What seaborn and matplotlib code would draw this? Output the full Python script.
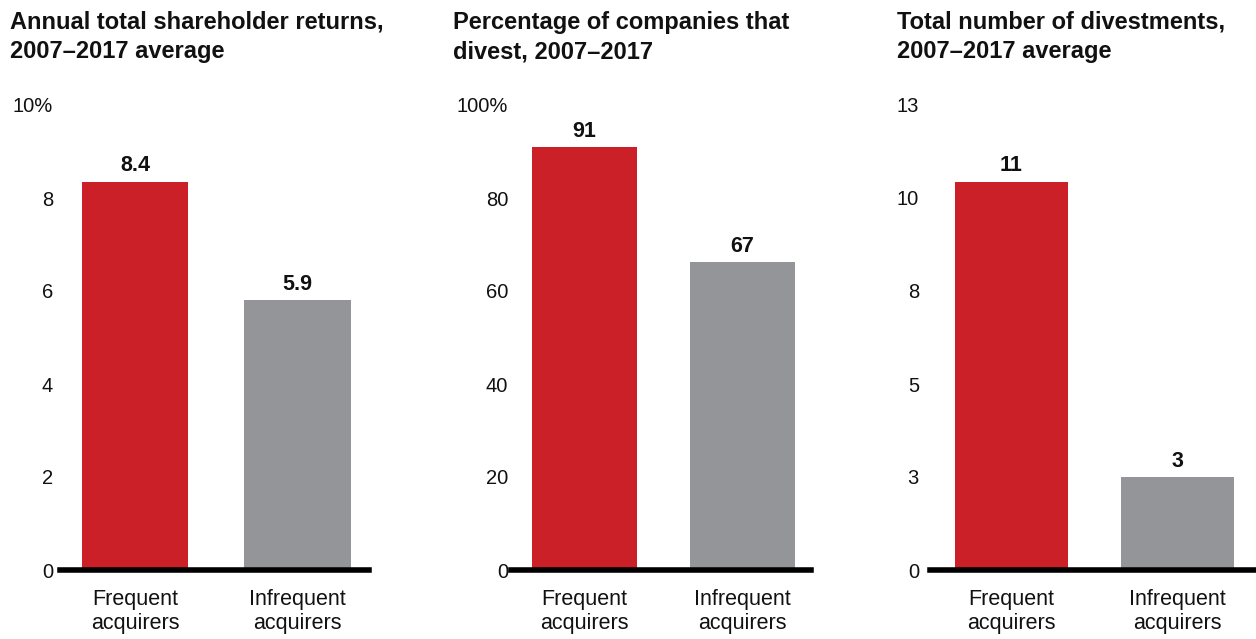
import matplotlib
matplotlib.use('Agg')

import pandas as pd
import seaborn as sns
import matplotlib.pyplot as plt

sns.set_style('white')
plt.rcParams['font.family'] = ['Liberation Sans', 'DejaVu Sans']

categories = ['Frequent\nacquirers', 'Infrequent\nacquirers']
bar_colors = ['#cc2028', '#939598']

# panel 1: annual TSR
tsr_values = [8.35, 5.8]
tsr_labels = ['8.4', '5.9']
tsr_ticks = [0, 2, 4, 6, 8, 10]
tsr_ticklabels = ['0', '2', '4', '6', '8', '10%']

# panel 2: share of companies that divest
divest_values = [90.9, 66.2]
divest_labels = ['91', '67']
divest_ticks = [0, 20, 40, 60, 80, 100]
divest_ticklabels = ['0', '20', '40', '60', '80', '100%']

# panel 3: number of divestments
count_values = [10.85, 2.6]
count_labels = ['11', '3']
count_ticks = [0, 2.6, 5.2, 7.8, 10.4, 13]
count_ticklabels = ['0', '3', '5', '8', '10', '13']

titles = ['Annual total shareholder returns,\n2007\u20132017 average',
          'Percentage of companies that\ndivest, 2007\u20132017',
          'Total number of divestments,\n2007\u20132017 average']

W, H = 1256, 639
fig = plt.figure(figsize=(W / 100, H / 100), dpi=100)

# (left px, right px, xlim, bar width, tick pad, title x px)
panels = [
    (60, 369, (-0.463, 1.444), 0.66, 5, 10, tsr_values, tsr_labels, tsr_ticks, tsr_ticklabels),
    (511, 811, (-0.465, 1.434), 0.66, 2, 453, divest_values, divest_labels, divest_ticks, divest_ticklabels),
    (930, 1256, (-0.491, 1.473), 0.675, 8, 897, count_values, count_labels, count_ticks, count_ticklabels),
]

bottom_px, top_px = 570, 105

for i, (l, r, xlim, bw, pad, tx, vals, labs, ticks, ticklabs) in enumerate(panels):
    ax = fig.add_axes([l / W, 1 - bottom_px / H, (r - l) / W, (bottom_px - top_px) / H])
    df = pd.DataFrame({'cat': categories, 'val': vals})
    sns.barplot(data=df, x='cat', y='val', hue='cat', palette=bar_colors,
                width=bw, legend=False, ax=ax, saturation=1, linewidth=0)
    ax.set_xlim(*xlim)
    ax.set_ylim(0, ticks[-1])
    ax.set_yticks(ticks)
    ax.set_yticklabels(ticklabs)
    ax.set_xlabel('')
    ax.set_ylabel('')
    for s in ['top', 'right', 'left']:
        ax.spines[s].set_visible(False)
    ax.spines['bottom'].set_linewidth(4)
    ax.spines['bottom'].set_color('black')
    ax.tick_params(axis='y', length=0, pad=pad, labelsize=14.5, labelcolor='#111111')
    ax.tick_params(axis='x', length=0, pad=14, labelsize=15.5, labelcolor='#111111')
    for t in ax.get_xticklabels():
        t.set_linespacing(1.15)
    for j, (v, s) in enumerate(zip(vals, labs)):
        ax.annotate(s, (j, v), xytext=(0, 7.5), textcoords='offset points',
                    ha='center', va='baseline', fontsize=15.5, fontweight='bold', color='#111111')
    fig.text(tx / W, 1 - 11 / H, titles[i], ha='left', va='top', fontsize=17,
             fontweight='bold', color='#111111', linespacing=1.35)

fig.savefig('out.png', dpi=100)
